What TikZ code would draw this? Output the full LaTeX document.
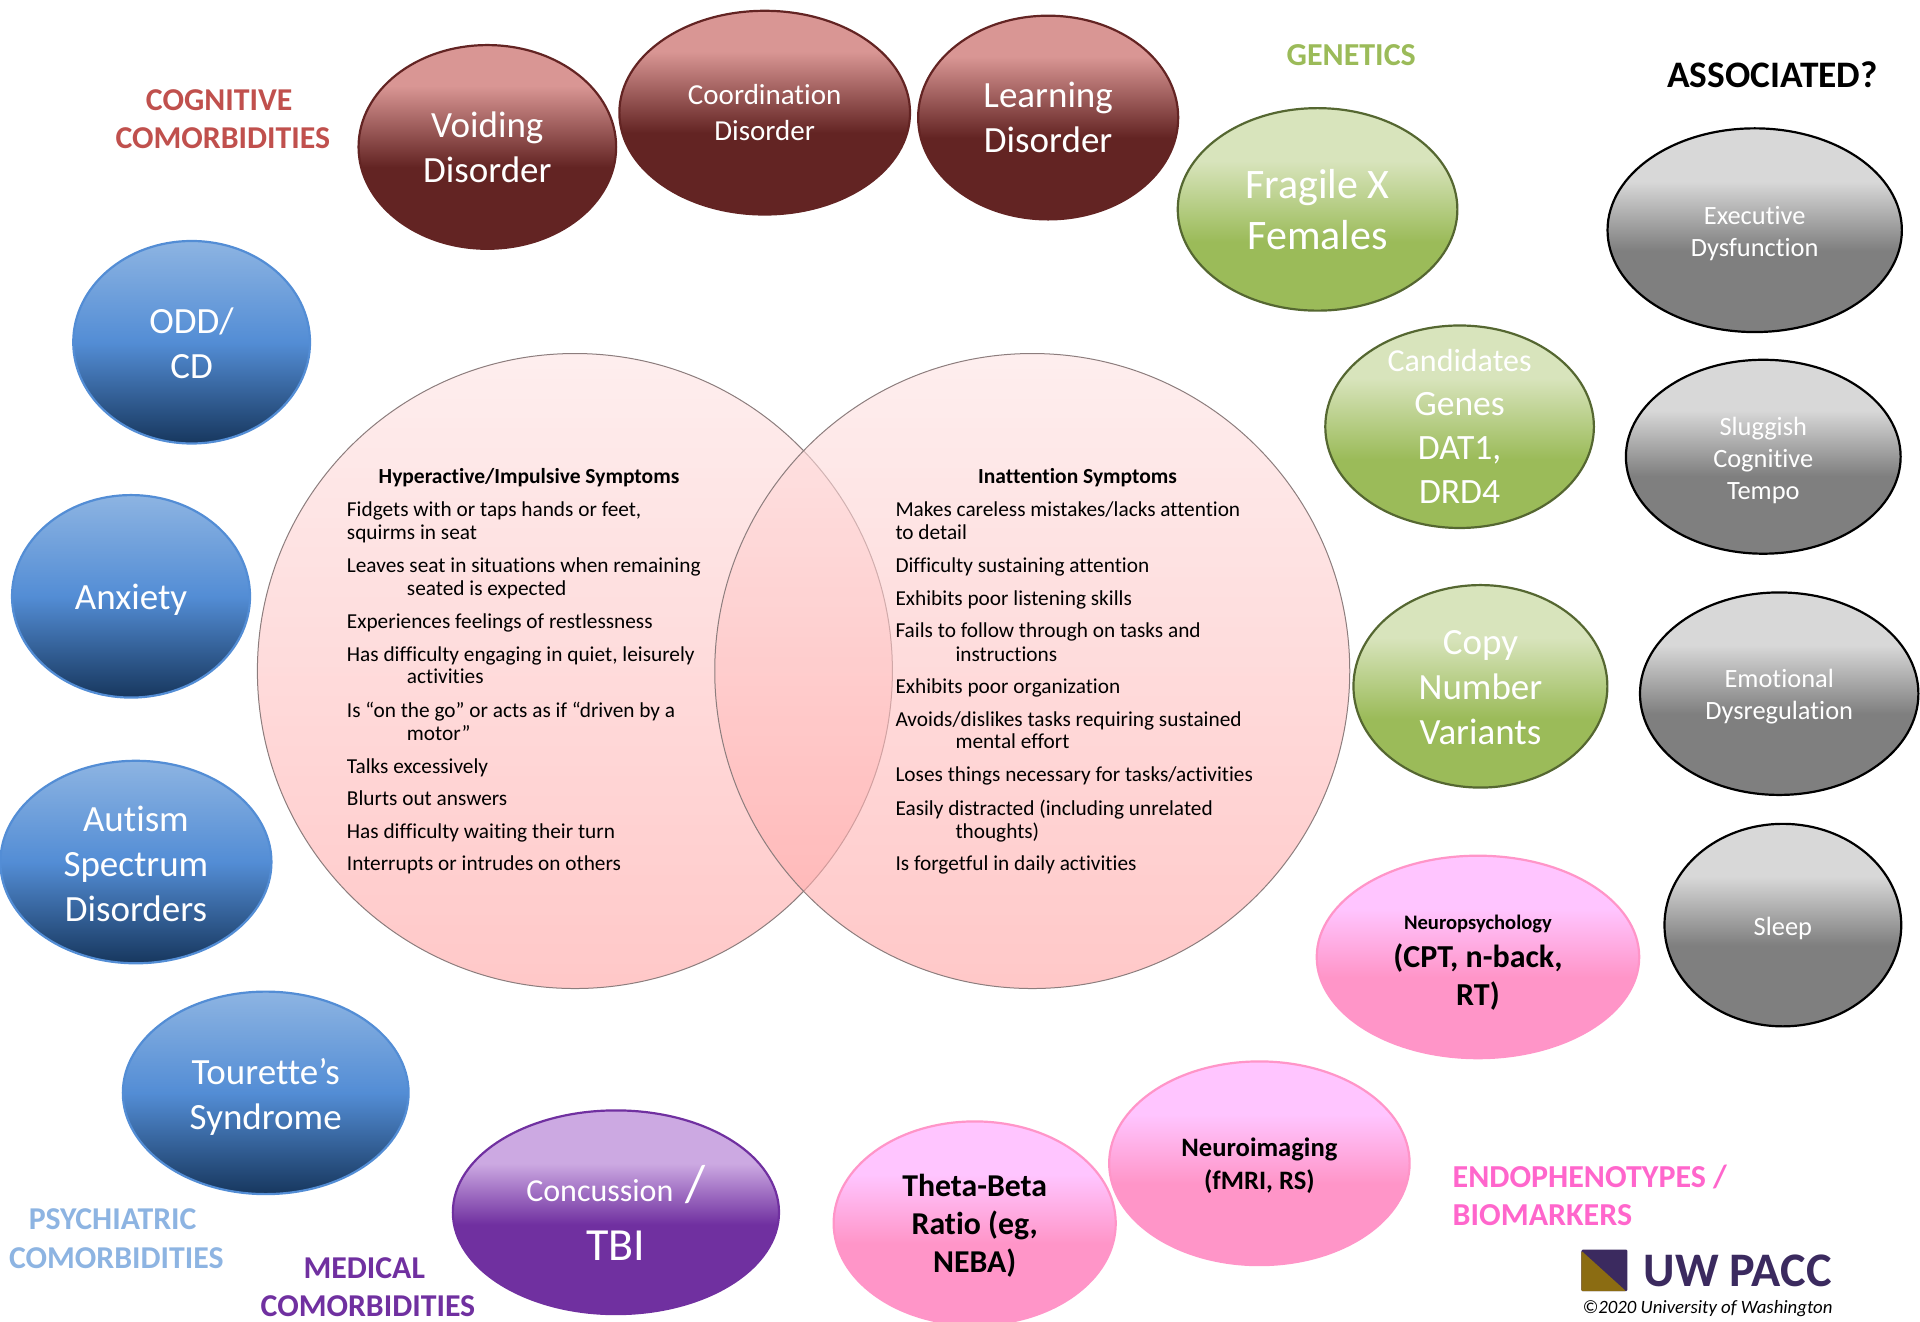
\documentclass[tikz,border=0pt]{standalone}
\usepackage{fontspec}
\setmainfont{Carlito}[Ligatures=NoCommon]
\usetikzlibrary{shapes.geometric}
\definecolor{mL}{HTML}{D99694}\definecolor{mD}{HTML}{632423}
\definecolor{gL}{HTML}{D8D8D8}\definecolor{gD}{HTML}{7F7F7F}
\definecolor{vL}{HTML}{D8E4BC}\definecolor{vD}{HTML}{9BBB59}
\definecolor{bL}{HTML}{8DB4E2}\definecolor{bM}{HTML}{538DD5}\definecolor{bD}{HTML}{17375E}
\definecolor{pL}{HTML}{CCA9E2}\definecolor{pD}{HTML}{7030A0}
\definecolor{kL}{HTML}{FFC5FF}\definecolor{kD}{HTML}{FF95C8}
\definecolor{rT}{HTML}{FEE3E3}\definecolor{rB}{HTML}{FFA3A3}
\pgfdeclareverticalshading{mshade}{100bp}{color(0bp)=(mD); color(45bp)=(mD); color(65bp)=(mL); color(100bp)=(mL)}
\pgfdeclareverticalshading{gshade}{100bp}{color(0bp)=(gD); color(45bp)=(gD); color(62bp)=(gL); color(100bp)=(gL)}
\pgfdeclareverticalshading{vshade}{100bp}{color(0bp)=(vD); color(42bp)=(vD); color(62bp)=(vL); color(100bp)=(vL)}
\pgfdeclareverticalshading{bshade}{100bp}{color(0bp)=(bD); color(25bp)=(bD); color(50bp)=(bM); color(75bp)=(bL); color(100bp)=(bL)}
\pgfdeclareverticalshading{pshade}{100bp}{color(0bp)=(pD); color(47bp)=(pD); color(62bp)=(pL); color(100bp)=(pL)}
\pgfdeclareverticalshading{kshade}{100bp}{color(0bp)=(kD); color(45bp)=(kD); color(62bp)=(kL); color(100bp)=(kL)}
\pgfdeclareverticalshading{rshade}{100bp}{color(0bp)=(rB); color(25bp)=(rB); color(75bp)=(rT); color(100bp)=(rT)}
\tikzset{
  x=0.61224pt,y=-0.61224pt,
  bubble/.style={ellipse,inner sep=0pt,outer sep=0pt,shade,line width=1.1pt},
  maroon/.style={bubble,shading=mshade,draw=mD},
  graybub/.style={bubble,shading=gshade,draw=black},
  greenbub/.style={bubble,shading=vshade,draw=vD!55!black},
  bluebub/.style={bubble,shading=bshade,draw=bM},
  purplebub/.style={bubble,shading=pshade,draw=pD},
  pinkbub/.style={bubble,shading=kshade,draw=kD},
  bubtext/.style={align=center,inner sep=0pt,text=white},
  darktext/.style={align=center,inner sep=0pt,text=black,font=\bfseries},
  venn/.style={circle,inner sep=0pt,outer sep=0pt,shade,shading=rshade,fill opacity=.6,draw=black!45!rT,draw opacity=1,line width=.5pt,minimum size=635pt/2},
  listline/.style={anchor=west,inner sep=0pt,font=\fontsize{10.65}{12}\selectfont,text height=7pt,text depth=2pt},
  listhead/.style={inner sep=0pt,font=\fontsize{10.75}{12}\selectfont\bfseries,text height=7pt,text depth=2pt},
  cat/.style={align=center,inner sep=0pt,font=\fontsize{15.9}{19.1}\selectfont\bfseries},
}
\newcommand{\bub}[9]{%
  \node[#6,minimum width=#4*0.61224pt-1pt,minimum height=#5*0.61224pt-1pt] (#1) at (#2,#3) {};
  \node[#7] (#1-t) at (#2,#8) {#9};}
\newcommand{\fs}[2]{\fontsize{#1}{#2}\selectfont}
\begin{document}
\begin{tikzpicture}
\useasboundingbox (0,0) rectangle (1568,1078.9);
% Venn
\node[venn] (hyper) at (469.5,548) {};
\node[venn] (inatt) at (843,548) {};
% maroon
\bub{void}{398}{120}{212}{168}{maroon}{bubtext,font=\fs{18.5}{22.6}}{120}{Voiding\\Disorder}
\bub{coord}{624.5}{92}{239}{168}{maroon}{bubtext,font=\fs{14.5}{17.8}}{92}{Coordination\\Disorder}
\bub{learn}{856}{96}{214}{168}{maroon}{bubtext,font=\fs{18.5}{22.6}}{96}{Learning\\Disorder}
% green
\bub{frag}{1076}{171}{230}{167}{greenbub}{bubtext,font=\fs{21}{25.7}}{171}{Fragile X\\Females}
\bub{cand}{1192}{348.5}{221}{167}{greenbub}{bubtext,font=\fs{17.8}{22}}{348}{{\fs{16}{21}Candidates}\\Genes\\DAT1,\\DRD4}
\bub{copy}{1209}{560.5}{209}{167}{greenbub}{bubtext,font=\fs{18.5}{22.4}}{561.5}{Copy\\Number\\Variants}
% gray
\bub{exec}{1433}{188}{242}{168}{graybub}{bubtext,font=\fs{13.2}{16}}{191}{Executive\\Dysfunction}
\bub{slug}{1440}{373}{226}{160}{graybub}{bubtext,font=\fs{13.2}{16}}{376}{Sluggish\\Cognitive\\Tempo}
\bub{emot}{1453}{566.5}{229}{167}{graybub}{bubtext,font=\fs{13.2}{16}}{569}{Emotional\\Dysregulation}
\bub{sleep}{1456}{755.5}{195}{167}{graybub}{bubtext,font=\fs{13.2}{16}}{758}{Sleep}
% blue
\bub{odd}{156.5}{279.5}{195}{167}{bluebub}{bubtext,font=\fs{18.5}{22.4}}{280.5}{ODD/\\CD}
\bub{anx}{107}{487}{196}{167}{bluebub}{bubtext,font=\fs{18.5}{22.4}}{490}{Anxiety}
\bub{aut}{111}{704}{223}{167}{bluebub}{bubtext,font=\fs{18.5}{22.4}}{705.5}{Autism\\Spectrum\\Disorders}
\bub{tour}{217}{892.5}{235}{167}{bluebub}{bubtext,font=\fs{18.5}{22.4}}{896}{Tourette’s\\Syndrome}
% purple
\bub{tbi}{503}{990}{268}{168}{purplebub}{bubtext,font=\fs{16}{27}}{990.5}{Concussion\hspace{6pt}{\fs{26}{27}/}\\[2.5pt]{\fs{23}{27}TBI}}
% pink
\bub{theta}{796}{999}{232}{168}{pinkbub}{darktext,font=\fs{15.9}{19}\bfseries}{1001}{Theta-Beta\\Ratio (eg,\\NEBA)}
\bub{img}{1028.5}{950}{247}{168}{pinkbub}{darktext,font=\fs{13.3}{16.5}\bfseries}{952}{Neuroimaging\\(fMRI, RS)}
\bub{psy}{1207}{781.5}{265}{167}{pinkbub}{darktext,font=\fs{16}{19}\bfseries}{786.5}{{\fs{10.3}{16}\bfseries Neuropsychology}\\(CPT, n-back,\\RT)}
% left list
\node[listhead] (hh) at (432,390.5) {Hyperactive/Impulsive Symptoms};
\node[listline] (h1) at (283,417.5) {Fidgets with or taps hands or feet,};
\node[listline] (h2) at (283,436.5) {squirms in seat};
\node[listline] (h3) at (283,463.5) {Leaves seat in situations when remaining};
\node[listline] (h4) at (332,482.5) {seated is expected};
\node[listline] (h5) at (283,509) {Experiences feelings of restlessness};
\node[listline] (h6) at (283,536) {Has difficulty engaging in quiet, leisurely};
\node[listline] (h7) at (332,554.5) {activities};
\node[listline] (h8) at (283,581.5) {Is “on the go” or acts as if “driven by a};
\node[listline] (h9) at (332,600.5) {motor”};
\node[listline] (h10) at (283,627.5) {Talks excessively};
\node[listline] (h11) at (283,653.5) {Blurts out answers};
\node[listline] (h12) at (283,680.5) {Has difficulty waiting their turn};
\node[listline] (h13) at (283,706.5) {Interrupts or intrudes on others};
% right list
\node[listhead] (ih) at (880,390.5) {Inattention Symptoms};
\node[listline] (i1) at (731,417.5) {Makes careless mistakes/lacks attention};
\node[listline] (i2) at (731,436.5) {to detail};
\node[listline] (i3) at (731,463.5) {Difficulty sustaining attention};
\node[listline] (i4) at (731,490.5) {Exhibits poor listening skills};
\node[listline] (i5) at (731,516.5) {Fails to follow through on tasks and};
\node[listline] (i6) at (780,536.5) {instructions};
\node[listline] (i7) at (731,562.5) {Exhibits poor organization};
\node[listline] (i8) at (731,589.5) {Avoids/dislikes tasks requiring sustained};
\node[listline] (i9) at (780,607.5) {mental effort};
\node[listline] (i10) at (731,634.5) {Loses things necessary for tasks/activities};
\node[listline] (i11) at (731,661.5) {Easily distracted (including unrelated};
\node[listline] (i12) at (780,680.5) {thoughts)};
\node[listline] (i13) at (731,706.5) {Is forgetful in daily activities};
% category labels
\definecolor{cRed}{HTML}{C0504D}\definecolor{cBlue}{HTML}{8DB4E2}\definecolor{cPink}{HTML}{FF66CC}
\node[cat,text=cRed] (c1) at (182,97.5) {COGNITIVE\kern3.7pt\\COMORBIDITIES};
\node[cat,text=cBlue] (c2) at (95,1011.5) {PSYCHIATRIC\kern3.7pt\\COMORBIDITIES};
\node[cat,text=pD] (c3) at (300.5,1051) {MEDICAL\kern3.7pt\\COMORBIDITIES};
\node[cat,text=vD,font=\fs{16}{18}\bfseries] (c4) at (1103.5,45) {GENETICS};
\node[cat,text=black,font=\fs{18.7}{20}\bfseries] (c5) at (1447.5,61) {ASSOCIATED?};
\node[cat,text=cPink,align=left,anchor=west,font=\fs{16}{19}\bfseries] (c6) at (1186,976.5) {ENDOPHENOTYPES /\\BIOMARKERS};
% logo
\definecolor{uwP}{HTML}{3B2A5F}\definecolor{uwG}{HTML}{8B6C12}
\fill[uwP,rounded corners=.6pt] (1291.5,1020.5) rectangle (1329,1054.5);
\fill[uwG,rounded corners=.6pt] (1291.5,1021.5) -- (1291.5,1054.5) -- (1328,1054.5) -- cycle;
\node[inner sep=0pt,text=uwP,font=\fs{24.1}{26}\bfseries] (uw) at (1419,1038) {UW PACC};
\node[inner sep=0pt,font=\fs{9.4}{11}\itshape] (cr) at (1394.5,1069) {©2020 University of Washington};
\end{tikzpicture}
\end{document}
